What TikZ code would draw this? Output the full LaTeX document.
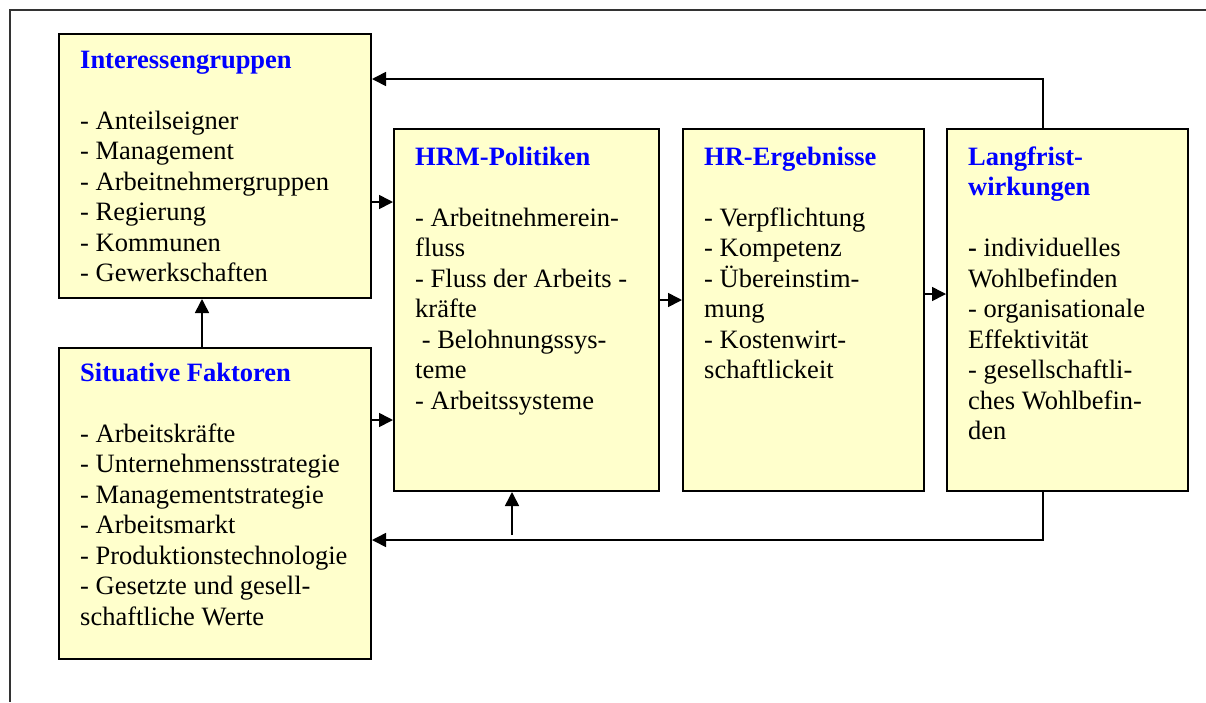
\documentclass[tikz,border=0pt]{standalone}
\usepackage{fontspec}
\setmainfont{Liberation Serif}
\usetikzlibrary{arrows.meta}
\definecolor{boxfill}{HTML}{FFFFCC}
\definecolor{titleblue}{HTML}{0000FF}
\tikzset{
  box/.style={draw=black, line width=2pt, fill=boxfill, inner sep=0pt, anchor=north west},
  txt/.style={anchor=north west, inner sep=0pt, align=left, font=\fontsize{26.5}{30.5}\selectfont},
  arr/.style={line width=1.6pt, -{Triangle[length=14pt,width=14pt]}},
  conn/.style={line width=1.6pt},
}
\newcommand{\ttl}[1]{\textcolor{titleblue}{\textbf{#1}}}
\newcommand{\fl}{\rule{0pt}{20pt}}
\begin{document}
\begin{tikzpicture}[x=1pt,y=-1pt]
\useasboundingbox (0,0) rectangle (1206,702);
% outer frame
\draw[line width=2pt, draw=black!80] (1206,10) -- (10,10) -- (10,702);
% boxes
\node[box, minimum width=312pt, minimum height=264pt] (ig) at (58,33) {};
\node[box, minimum width=312pt, minimum height=311pt] (sf) at (58,347) {};
\node[box, minimum width=265pt, minimum height=362pt] (hrm) at (393,128) {};
\node[box, minimum width=241pt, minimum height=362pt] (hre) at (682,128) {};
\node[box, minimum width=241pt, minimum height=362pt] (lf) at (946,128) {};
% texts
\node[txt] (igt) at (80,48) {\fl\ttl{Interessengruppen}\\[30.5pt]
- Anteilseigner\\- Management\\- Arbeitnehmergruppen\\- Regierung\\- Kommunen\\- Gewerkschaften};
\node[txt] (sft) at (80,361) {\fl\ttl{Situative Faktoren}\\[30.5pt]
- Arbeitskräfte\\- Unternehmensstrategie\\- Managementstrategie\\- Arbeitsmarkt\\- Produktionstechnologie\\- Gesetzte und gesell-\\schaftliche Werte};
\node[txt] (hrmt) at (415,145) {\fl\ttl{HRM-Politiken}\\[30.5pt]
- Arbeitnehmerein-\\fluss\\- Fluss der Arbeits -\\kräfte\\\hspace*{6.6pt}- Belohnungssys-\\teme\\- Arbeitssysteme};
\node[txt] (hret) at (704,145) {\fl\ttl{HR-Ergebnisse}\\[30.5pt]
- Verpflichtung\\- Kompetenz\\- Übereinstim-\\mung\\- Kostenwirt-\\schaftlickeit};
\node[txt] (lft) at (968,145) {\fl\ttl{Langfrist-}\\\ttl{wirkungen}\\[30.5pt]
\textbf{-} individuelles\\Wohlbefinden\\- organisationale\\Effektivität\\- gesellschaftli-\\ches Wohlbefin-\\den};
% coordinates
\coordinate (topy) at (0,79);
\coordinate (boty) at (0,540);
\coordinate (fbx) at (1043,0);
\coordinate (upstart) at (512,535);
% connectors
\draw[arr] (ig.east |- 0,202) -- (hrm.west |- 0,202);
\draw[arr] (sf.east |- 0,420) -- (hrm.west |- 0,420);
\draw[arr] (hrm.east |- 0,300) -- (hre.west |- 0,300);
\draw[arr] (hre.east |- 0,294) -- (lf.west |- 0,294);
\draw[arr] (sf.north -| 202,0) -- (ig.south -| 202,0);
\draw[arr] (lf.north -| fbx) |- (ig.east |- topy);
\draw[arr] (lf.south -| fbx) |- (sf.east |- boty);
\draw[arr] (upstart) -- (hrm.south -| upstart);
\end{tikzpicture}
\end{document}
